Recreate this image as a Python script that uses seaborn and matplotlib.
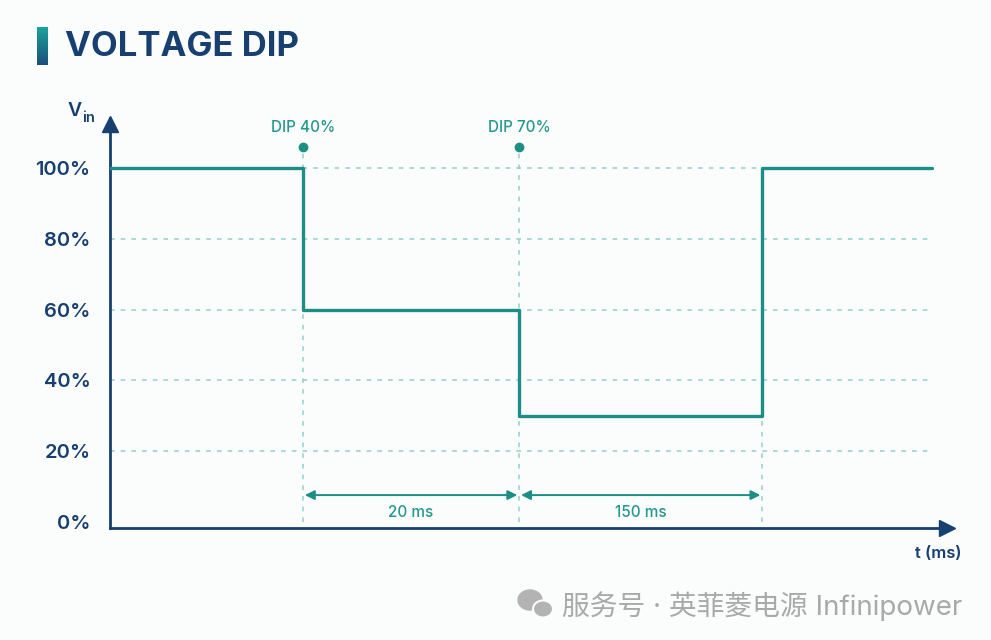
import matplotlib
matplotlib.use("Agg")
import matplotlib.pyplot as plt
import numpy as np
import pandas as pd
import seaborn as sns
from matplotlib.patches import Ellipse

# Données (schéma, axe des temps non proportionnel)
t_points = [0, 1.0, 2.12, 3.38, 4.26]
niveaux = [100, 60, 30, 100, 100]
y_ticks = [0, 20, 40, 60, 80, 100]
y_labels = ["0%", "20%", "40%", "60%", "80%", "100%"]
evenements_t = [1.0, 2.12]
evenements_labels = ["DIP 40%", "DIP 70%"]
durees_debut = [1.0, 2.12]
durees_fin = [2.12, 3.38]
durees_labels = ["20 ms", "150 ms"]

TEAL = "#1b8f86"
TEAL_TEXTE = "#24988e"
TEAL_CLAIR = "#93cfca"
NAVY = "#173f70"
FOND = "#fbfcfc"

sns.set_theme(style="white")
plt.rcParams["font.family"] = ["Inter", "Noto Sans CJK SC", "DejaVu Sans"]

fig = plt.figure(figsize=(9.91, 6.4), dpi=100, facecolor=FOND)
ax = fig.add_axes([0.111, 0.175, 0.8446, 0.631])
ax.set_facecolor(FOND)

df = pd.DataFrame({"t": t_points, "vin": niveaux})

# Grille pointillée horizontale
for y in y_ticks[1:]:
    ax.plot([0, t_points[-1]], [y, y], color=TEAL_CLAIR, lw=1.1, ls=(0, (3, 4)), zorder=1)

# Lignes verticales des évènements
for t in evenements_t:
    ax.plot([t, t], [0, 106], color=TEAL_CLAIR, lw=1.1, ls=(0, (3, 4)), zorder=1,
            clip_on=False)
ax.plot([durees_fin[-1]] * 2, [0, 100], color=TEAL_CLAIR, lw=1.1, ls=(0, (3, 4)), zorder=1)

# Signal
sns.lineplot(data=df, x="t", y="vin", drawstyle="steps-post", color=TEAL, lw=2.4,
             ax=ax, zorder=3, estimator=None, sort=False)

# Marqueurs et étiquettes des creux
for t, lab in zip(evenements_t, evenements_labels):
    ax.plot(t, 106, "o", color=TEAL, ms=6, clip_on=False, zorder=4)
    ax.text(t, 111.5, lab, color=TEAL_TEXTE, fontsize=11, fontweight="medium",
            ha="center", va="center", clip_on=False)

# Flèches de durée
for a, b, lab in zip(durees_debut, durees_fin, durees_labels):
    ax.annotate("", xy=(a + 0.01, 7.6), xytext=(b - 0.01, 7.6),
                arrowprops=dict(arrowstyle="<|-|>", color=TEAL, lw=1.4,
                                mutation_scale=14, shrinkA=0, shrinkB=0))
    ax.text((a + b) / 2, 2.8, lab, color=TEAL_TEXTE, fontsize=11, fontweight="medium",
            ha="center", va="center")

ax.set_xlim(0, 4.337)
ax.set_ylim(-1.7, 112.4)
ax.set_yticks(y_ticks)
ax.set_yticklabels(y_labels)
ax.set_xticks([])
ax.tick_params(axis="y", length=0, pad=14, labelsize=14.5, labelcolor=NAVY)
for lbl in ax.get_yticklabels():
    lbl.set_fontweight("semibold")
ax.set_xlabel("")
ax.set_ylabel("")

sns.despine(ax=ax, top=True, right=True)
for side in ["left", "bottom"]:
    ax.spines[side].set_color(NAVY)
    ax.spines[side].set_linewidth(2)

# Pointes des axes
ax.plot(0, 1, "^", color=NAVY, ms=11, transform=ax.transAxes, clip_on=False, zorder=5)
ax.plot(1, 0, ">", color=NAVY, ms=11, transform=ax.transAxes, clip_on=False, zorder=5)

# Noms des axes
ax.text(-0.218, 116.1, "V", color=NAVY, fontsize=14, fontweight="semibold",
        ha="left", va="center", clip_on=False)
ax.text(-0.142, 114.2, "in", color=NAVY, fontsize=10.5, fontweight="semibold",
        ha="left", va="center", clip_on=False)
ax.text(4.41, -8.8, "t (ms)", color=NAVY, fontsize=12, fontweight="semibold",
        ha="right", va="center", clip_on=False)

# Titre avec barre dégradée
barre = fig.add_axes([37 / 991, 1 - 65 / 640, 11 / 991, 38 / 640])
degrade = np.linspace(0, 1, 100).reshape(-1, 1)
barre.imshow(degrade, aspect="auto", cmap=sns.blend_palette(["#1aa39a", "#1b4f7d"], as_cmap=True))
barre.axis("off")
fig.text(65 / 991, 1 - 47 / 640, "VOLTAGE DIP", color=NAVY, fontsize=25,
         fontweight="bold", ha="left", va="center")

# Filigrane
fig.text(962 / 991, 1 - 606 / 640, "服务号 · 英菲菱电源 Infinipower", color="#a9a9a9",
         fontsize=20, ha="right", va="center")
fig.patches.append(Ellipse((530, 640 - 600), 24, 20, color="#b3b3b3",
                           transform=None, figure=fig))
fig.patches.append(Ellipse((543, 640 - 609), 20, 17, color="#b3b3b3",
                           ec=FOND, lw=1.5, transform=None, figure=fig))

fig.savefig("out.png", dpi=100, facecolor=FOND)
